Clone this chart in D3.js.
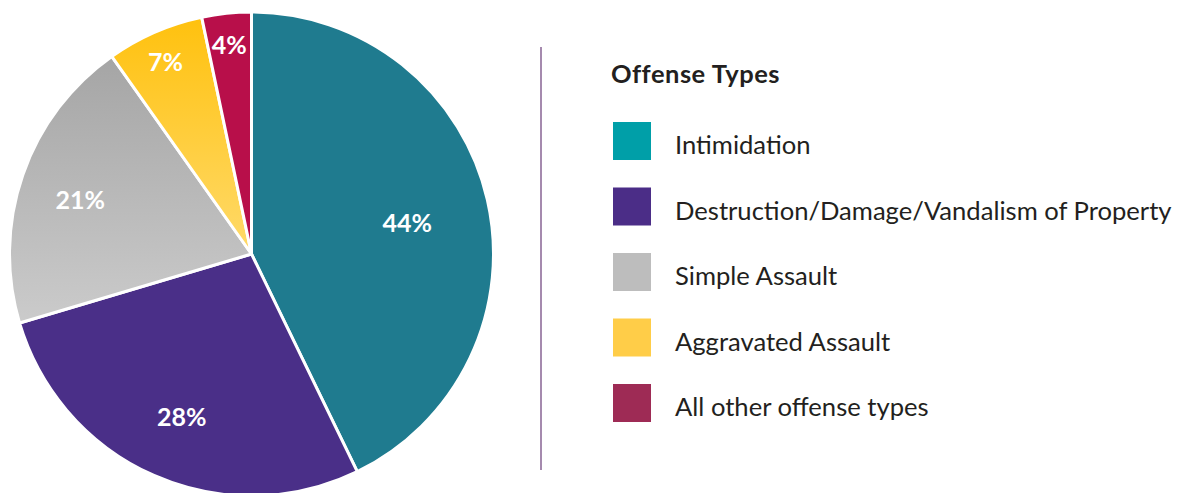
<!DOCTYPE html>
<html lang="en">
<head>
<meta charset="utf-8">
<script src="https://d3js.org/d3.v7.min.js"></script>
<title>Offense Types</title>
<style>
  body { margin: 0; background: #fff; }
  svg { display: block; font-family: Lato, "Noto Sans", sans-serif; }
</style>
</head>
<body>
<div id="container"></div>
<script>
// data
const offenseTypes = ["Intimidation", "Destruction/Damage/Vandalism of Property", "Simple Assault", "Aggravated Assault", "All other offense types"];
const shares = [42.8, 27.6, 19.8, 6.5, 3.3];
const pctLabels = ["44%", "28%", "21%", "7%", "4%"];
const legendTitle = "Offense Types";

const w = 1177;
const h = 493;
const R = 242;
const cx = 251.5, cy = 254;

// pie fills (some slices have a vertical gradient) and legend swatches differ a bit
const pieFills = ["#1f7b8f", "#4a2f88", "url(#gGray)", "url(#gYellow)", "#b80f4a"];
const swatchColors = ["#009fa8", "#4b2d87", "#bdbdbd", "#ffcd48", "#9e2b55"];

const svg = d3.select("#container")
              .append("svg")
              .attr("width", w)
              .attr("height", h);

const defs = svg.append("defs");
function vGrad(id, top, bottom) {
  const g = defs.append("linearGradient")
                .attr("id", id)
                .attr("x1", 0).attr("y1", 0).attr("x2", 0).attr("y2", 1);
  g.append("stop").attr("offset", "0%").attr("stop-color", top);
  g.append("stop").attr("offset", "100%").attr("stop-color", bottom);
}
vGrad("gGray", "#a5a5a5", "#cbcbcb");
vGrad("gYellow", "#ffc10e", "#ffda6a");

const pie = d3.pie().sort(null).value(d => d);
const arcs = pie(shares);
const arc = d3.arc().innerRadius(0).outerRadius(R);

// small slices get their label pushed out towards the rim
const labelPos = d3.scaleLinear()
                   .domain([0.4, 1.3, 2.7])
                   .range([0.89, 0.74, 0.66])
                   .clamp(true);

const g = svg.append("g").attr("transform", "translate(" + cx + "," + cy + ")");

g.selectAll("path")
 .data(arcs)
 .enter()
 .append("path")
 .attr("d", arc)
 .attr("fill", (d, i) => pieFills[i])
 .attr("stroke", "#fff")
 .attr("stroke-width", 3)
 .attr("stroke-linejoin", "round");

g.selectAll("text.pct")
 .data(arcs)
 .enter()
 .append("text")
 .attr("class", "pct")
 .attr("transform", d => {
   const r = R * labelPos(d.endAngle - d.startAngle);
   const c = d3.arc().innerRadius(r).outerRadius(r).centroid(d);
   return "translate(" + c[0] + "," + (c[1] + 5) + ")";
 })
 .attr("text-anchor", "middle")
 .attr("dy", "0.36em")
 .attr("fill", "#fff")
 .attr("font-weight", "bold")
 .attr("font-size", 25)
 .text((d, i) => pctLabels[i]);

// divider
svg.append("line")
   .attr("x1", 541).attr("x2", 541)
   .attr("y1", 47).attr("y2", 470)
   .attr("stroke", "#a58aae")
   .attr("stroke-width", 2);

// legend
const legend = svg.append("g").attr("transform", "translate(611,0)");
legend.append("text")
      .attr("x", 0).attr("y", 83)
      .attr("font-weight", "bold")
      .attr("font-size", 25.5)
      .attr("letter-spacing", 0.5)
      .attr("fill", "#231f20")
      .text(legendTitle);

const rowY = d3.scalePoint().domain(offenseTypes).range([122, 384]);

const rows = legend.selectAll("g.row")
                   .data(offenseTypes)
                   .enter()
                   .append("g")
                   .attr("class", "row")
                   .attr("transform", d => "translate(0," + rowY(d) + ")");

rows.append("rect")
    .attr("x", 2).attr("y", 0)
    .attr("width", 38).attr("height", 38)
    .attr("fill", (d, i) => swatchColors[i]);

rows.append("text")
    .attr("x", 64).attr("y", 32)
    .attr("font-size", 25.6)
    .attr("fill", "#231f20")
    .text(d => d);
</script>
</body>
</html>
